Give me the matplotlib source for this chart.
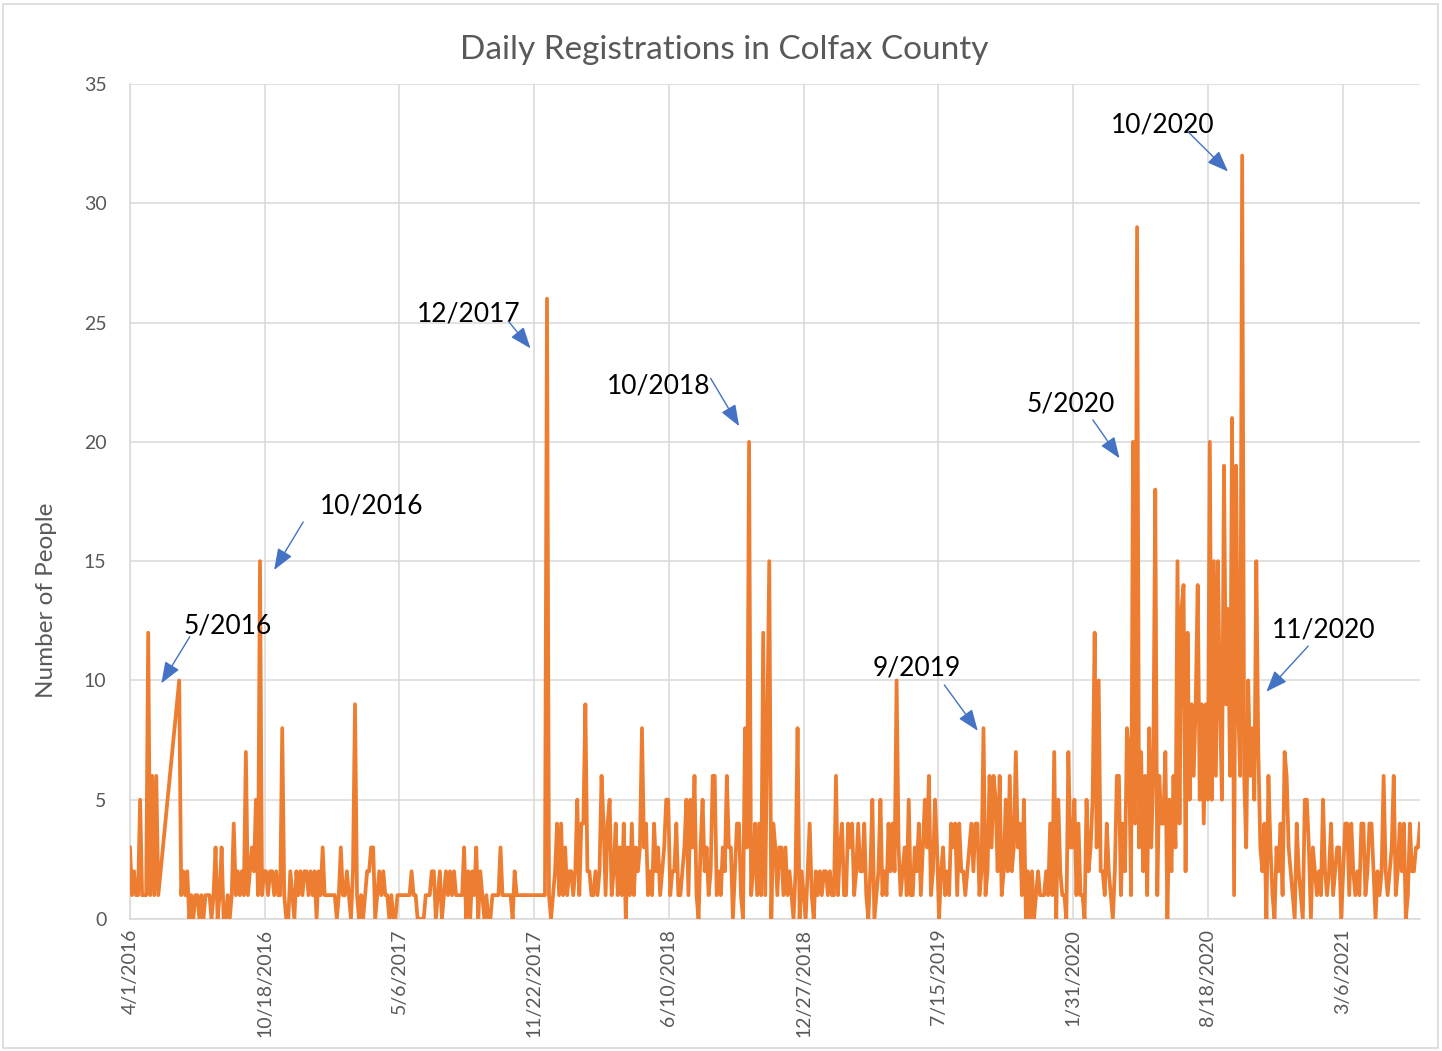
import pandas as pd
import matplotlib
matplotlib.use("Agg")
import matplotlib.pyplot as plt
from matplotlib.patches import Rectangle

# ---- data: daily registrations sampled every 3 days, in consecutive blocks ----
STEP_DAYS = 3
block_starts = ["2016-04-01", "2016-06-13", "2017-02-20", "2017-12-29",
                "2018-11-24", "2019-10-11", "2020-04-29", "2020-11-07"]

counts_2016_spring = [3, 1, 2, 1, 1, 5, 1, 1, 1, 12, 1, 6, 1, 6, 1]

counts_2016 = [10, 1, 2, 1, 2, 0, 1, 0, 1, 1,
               0, 1, 0, 1, 1, 1, 0, 1, 3, 0,
               1, 3, 0, 0, 1, 0, 1, 4, 1, 2,
               1, 2, 1, 7, 1, 2, 3, 2, 5, 1,
               15, 1, 2, 2, 1, 2, 2, 1, 2, 1,
               1, 8, 1, 0, 0, 2, 1, 0, 2, 1,
               2, 1, 2, 2, 1, 2, 1, 2, 0, 2,
               1, 3, 1, 1, 1, 1, 1, 1, 0, 1,
               3, 1, 1, 2]

counts_2017 = [1, 0, 2, 9, 1, 0, 1, 0, 1, 2,
               2, 3, 3, 0, 1, 2, 1, 2, 1, 1,
               0, 1, 0, 0, 1, 1, 1, 1, 1, 1,
               1, 2, 1, 1, 0, 0, 0, 0, 1, 1,
               1, 2, 2, 0, 1, 2, 0, 1, 2, 1,
               2, 1, 2, 1, 1, 1, 1, 3, 0, 2,
               0, 2, 1, 3, 0, 2, 1, 0, 1, 0,
               0, 1, 1, 1, 1, 3, 1, 1, 1, 1,
               1, 0, 2, 1, 1, 1, 1, 1, 1, 1,
               1, 1, 1, 1, 1, 1, 1, 1, 26, 1,
               0, 1, 2, 4]

counts_2018 = [1, 4, 1, 3, 1, 2, 2, 1, 2, 5,
               1, 4, 4, 9, 2, 2, 1, 1, 2, 1,
               2, 6, 4, 1, 4, 5, 1, 2, 4, 1,
               3, 1, 4, 0, 3, 1, 4, 1, 3, 2,
               3, 8, 3, 4, 1, 2, 1, 4, 2, 3,
               1, 2, 3, 5, 5, 1, 2, 2, 4, 1,
               1, 2, 3, 5, 1, 5, 3, 6, 1, 0,
               3, 5, 2, 3, 1, 2, 6, 6, 1, 2,
               1, 3, 2, 6, 3, 3, 0, 2, 4, 4,
               1, 0, 8, 3, 20, 1, 2, 4, 1, 4,
               1, 12, 1, 8, 15, 0, 4, 3, 1, 3]

counts_2019 = [3, 1, 3, 1, 2, 1, 0, 2, 8, 0,
               2, 1, 0, 2, 4, 1, 0, 2, 1, 2,
               1, 2, 2, 1, 2, 1, 1, 6, 1, 3,
               4, 1, 1, 4, 3, 4, 1, 2, 4, 2,
               2, 4, 1, 0, 2, 5, 0, 1, 2, 5,
               1, 2, 1, 4, 2, 4, 2, 10, 3, 1,
               2, 3, 1, 5, 1, 1, 3, 2, 4, 1,
               3, 5, 3, 6, 1, 2, 5, 3, 0, 2,
               3, 1, 2, 1, 4, 3, 4, 1, 4, 2,
               2, 1, 2, 3, 4, 2, 4, 4, 1, 2,
               8, 1, 2, 6, 3, 6, 5]

counts_2020_early = [2, 6, 1, 2, 5, 2, 6, 2, 3, 7,
                     3, 4, 1, 5, 0, 2, 0, 2, 0, 1,
                     2, 1, 1, 1, 2, 1, 4, 1, 7, 0,
                     5, 2, 1, 1, 0, 7, 3, 3, 5, 1,
                     4, 1, 1, 0, 5, 2, 3, 5, 12, 3,
                     10, 2, 2, 1, 4, 2, 1, 0, 2, 6,
                     6, 1, 4, 2, 8, 7, 1]

counts_2020_peak = [20, 4, 29, 3, 7, 2, 6, 1, 8, 3,
                    6, 18, 1, 6, 4, 4, 7, 0, 5, 2,
                    6, 3, 15, 4, 13, 14, 2, 12, 5, 9,
                    6, 9, 14, 5, 9, 4, 9, 5, 20, 5,
                    15, 6, 15, 9, 5, 19, 9, 13, 6, 21,
                    1, 19, 9, 6, 32, 6, 3, 10, 6, 8,
                    5, 15, 7, 3]

counts_2021 = [2, 4, 0, 6, 3, 1, 0, 3, 2, 4,
               1, 7, 6, 3, 2, 1, 0, 4, 2, 1,
               0, 5, 5, 3, 0, 3, 2, 1, 2, 1,
               5, 2, 1, 2, 4, 1, 2, 3, 3, 0,
               2, 4, 4, 1, 4, 2, 1, 2, 1, 4,
               4, 1, 2, 4, 4, 2, 0, 2, 1, 2,
               6, 2, 1, 2, 3, 6, 1, 2, 4, 2,
               4, 0, 1, 4, 2, 2, 3, 3, 4]

blocks = [counts_2016_spring, counts_2016, counts_2017, counts_2018,
          counts_2019, counts_2020_early, counts_2020_peak, counts_2021]

tick_labels = ["4/1/2016", "10/18/2016", "5/6/2017", "11/22/2017", "6/10/2018",
               "12/27/2018", "7/15/2019", "1/31/2020", "8/18/2020", "3/6/2021"]
y_ticks = [0, 5, 10, 15, 20, 25, 30, 35]

# callouts: label, text centre, arrow tail, arrow tip (days from first date, value)
callout_labels = ["5/2016", "10/2016", "12/2017", "10/2018",
                  "9/2019", "5/2020", "10/2020", "11/2020"]
callout_text = [(145.7, 12.28), (358.2, 17.31), (502.8, 25.36), (785.2, 22.35),
                (1168.0, 10.54), (1397.1, 21.59), (1533.4, 33.28), (1772.4, 12.11)]
callout_tail = [(88.7, 11.83), (257.1, 16.64), (562.3, 25.04), (862.0, 22.66),
                (1208.9, 9.81), (1429.4, 20.92), (1570.6, 33.0), (1749.0, 11.44)]
callout_tip = [(46.5, 9.88), (214.0, 14.63), (594.5, 23.92), (904.2, 20.66),
               (1258.5, 7.89), (1469.0, 19.31), (1630.0, 31.33), (1687.0, 9.53)]

# ---- build the series ----
dates, counts = [], []
for start, vals in zip(block_starts, blocks):
    dates.extend(pd.date_range(start, periods=len(vals), freq=f"{STEP_DAYS}D"))
    counts.extend(vals)
series = pd.Series(counts, index=pd.DatetimeIndex(dates))
first_day = series.index[0]


def day(n):
    return first_day + pd.Timedelta(days=n)


FONT = "Lato"
GREY = "#595959"
GRID = "#D9D9D9"
ORANGE = "#ED7D31"
BLUE = "#4472C4"

W, H = 1442, 1051
fig = plt.figure(figsize=(W / 100, H / 100), dpi=100)
fig.patch.set_facecolor("white")
fig.patches.append(Rectangle((3 / W, 3 / H), 1 - 7 / W, 1 - 7 / H,
                             transform=fig.transFigure, fill=False,
                             edgecolor=GRID, linewidth=1.2))

ax = fig.add_axes([130 / W, 1 - 919 / H, 1290 / W, 835 / H])
ax.plot(series.index, series.values, color=ORANGE, linewidth=2.7,
        solid_joinstyle="round", zorder=3)

ax.set_xlim(first_day, series.index[-1])
ax.set_ylim(0, 35)

tick_dates = pd.to_datetime(tick_labels, format="%m/%d/%Y")
ax.set_xticks(tick_dates)
ax.set_xticklabels(tick_labels, rotation=90, fontsize=14, color=GREY,
                   family=FONT)
ax.set_yticks(y_ticks)
ax.set_yticklabels([str(v) for v in y_ticks], fontsize=14, color=GREY,
                   family=FONT)
ax.tick_params(axis="both", length=0)
ax.tick_params(axis="x", pad=7)
ax.tick_params(axis="y", pad=17)

ax.grid(True, color=GRID, linewidth=1.1, zorder=0)
ax.set_axisbelow(True)
for side in ["top", "right"]:
    ax.spines[side].set_visible(False)
for side in ["left", "bottom"]:
    ax.spines[side].set_color(GRID)
    ax.spines[side].set_linewidth(1.1)

fig.text(724 / W, 1 - 50 / H, "Daily Registrations in Colfax County",
         ha="center", va="center", fontsize=24, color=GREY, family=FONT)
fig.text(47 / W, 1 - 600 / H, "Number of People", ha="center", va="center",
         rotation=90, fontsize=17.5, color=GREY, family=FONT)

for label, (tx, ty), (ax0, ay0), (ax1, ay1) in zip(
        callout_labels, callout_text, callout_tail, callout_tip):
    ax.text(day(tx), ty, label, ha="center", va="center", fontsize=19,
            color="black", family=FONT, zorder=5)
    ax.annotate("", xy=(day(ax1), ay1), xytext=(day(ax0), ay0),
                arrowprops=dict(arrowstyle="-|>,head_length=0.65,head_width=0.25",
                                color=BLUE, linewidth=1.0, mutation_scale=20,
                                shrinkA=0, shrinkB=0),
                zorder=5)

fig.savefig("out.png", dpi=100, facecolor="white")
